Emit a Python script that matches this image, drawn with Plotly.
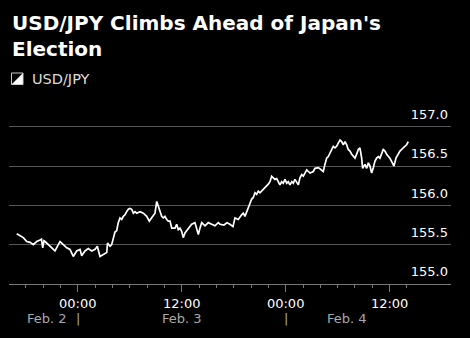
import plotly.graph_objects as go
import pandas as pd

# ---- data ----
hours_from_feb3 = [
    -7.04, -6.66, -6.28, -5.88, -5.50, -5.12, -4.73, -4.35, -4.18, -4.04, -3.89, -3.77,
    -3.39, -3.00, -2.62, -2.24, -2.04, -1.66, -1.27, -0.89, -0.51, -0.12, 0.27, 0.46,
    0.84, 1.22, 1.62, 2.00, 2.26, 2.57, 2.95, 3.35, 3.44, 3.73, 3.92, 4.11, 4.30, 4.50,
    4.68, 4.88, 5.08, 5.26, 5.46, 5.65, 5.84, 6.03, 6.23, 6.42, 6.61, 6.81, 7.19, 7.57,
    7.96, 8.26, 8.54, 8.72, 8.92, 9.12, 9.30, 9.50, 9.69, 9.88, 10.07, 10.27, 10.45, 10.65,
    10.85, 11.23, 11.42, 11.61, 11.80, 12.00, 12.18, 12.38, 12.76, 13.15, 13.53, 13.73,
    13.92, 14.11, 14.31, 14.69, 15.07, 15.46, 15.84, 16.22, 16.42, 16.88, 17.23, 17.57,
    17.92, 18.15, 18.53, 18.92, 19.11, 19.30, 19.50, 19.68, 19.88, 20.08, 20.26, 20.46,
    20.65, 20.84, 21.03, 21.41, 21.80, 21.99, 22.19, 22.38, 22.57, 22.76, 22.96, 23.15,
    23.34, 23.54, 23.72, 23.92, 24.12, 24.30, 24.50, 24.70, 24.88, 25.07, 25.27, 25.46,
    25.65, 25.85, 26.04, 26.23, 26.43, 26.62, 26.81, 27.19, 27.38, 27.77, 28.15, 28.34,
    28.53, 28.73, 28.92, 29.11, 29.31, 29.49, 29.69, 29.88, 30.07, 30.27, 30.46, 30.65,
    30.85, 31.04, 31.22, 31.42, 31.62, 31.80, 32.00, 32.19, 32.38, 32.57, 32.77, 32.88,
    33.15, 33.35, 33.54, 33.73, 33.92, 34.10, 34.30, 34.50, 34.69, 34.88, 35.07, 35.26,
    35.46, 35.65, 36.03, 36.23, 36.42, 36.50, 36.73, 37.00, 37.19, 37.57, 37.96, 38.15,
]
usdjpy = [
    155.64, 155.61, 155.59, 155.54, 155.53, 155.50, 155.54, 155.56, 155.57, 155.46, 155.55, 155.54,
    155.50, 155.46, 155.42, 155.50, 155.54, 155.50, 155.46, 155.44, 155.35, 155.42, 155.44, 155.36,
    155.42, 155.45, 155.42, 155.44, 155.48, 155.35, 155.38, 155.40, 155.52, 155.48, 155.50, 155.59,
    155.66, 155.68, 155.78, 155.84, 155.82, 155.86, 155.88, 155.92, 155.95, 155.96, 155.95, 155.90,
    155.92, 155.90, 155.92, 155.90, 155.86, 155.80, 155.84, 155.86, 155.90, 156.05, 155.99, 155.90,
    155.86, 155.84, 155.86, 155.82, 155.80, 155.80, 155.71, 155.71, 155.76, 155.69, 155.71, 155.67,
    155.59, 155.65, 155.71, 155.76, 155.78, 155.71, 155.63, 155.71, 155.78, 155.74, 155.78, 155.76,
    155.74, 155.78, 155.76, 155.75, 155.78, 155.76, 155.73, 155.84, 155.82, 155.88, 155.90, 155.86,
    155.92, 155.95, 156.03, 156.08, 156.10, 156.16, 156.14, 156.18, 156.16, 156.20, 156.24, 156.27,
    156.30, 156.37, 156.35, 156.33, 156.34, 156.30, 156.26, 156.30, 156.28, 156.33, 156.28, 156.30,
    156.26, 156.30, 156.28, 156.33, 156.30, 156.26, 156.35, 156.39, 156.37, 156.41, 156.45, 156.43,
    156.41, 156.43, 156.47, 156.48, 156.45, 156.43, 156.52, 156.60, 156.62, 156.67, 156.71, 156.75,
    156.73, 156.75, 156.79, 156.83, 156.81, 156.77, 156.81, 156.77, 156.71, 156.69, 156.65, 156.62,
    156.60, 156.65, 156.71, 156.73, 156.60, 156.47, 156.52, 156.47, 156.54, 156.50, 156.41, 156.47,
    156.56, 156.60, 156.62, 156.60, 156.67, 156.71, 156.69, 156.65, 156.60, 156.56, 156.52, 156.50,
    156.60, 156.65, 156.69, 156.73, 156.77, 156.81,
]
y_ticks = [155.0, 155.5, 156.0, 156.5, 157.0]
y_tick_labels = ["155.0", "155.5", "156.0", "156.5", "157.0"]
date_labels = ["Feb. 2", "Feb. 3", "Feb. 4"]
series_name = "USD/JPY"
title_text = "USD/JPY Climbs Ahead of Japan's<br>Election"

base = pd.Timestamp("2026-02-03 00:00")
times = [base + pd.Timedelta(hours=h) for h in hours_from_feb3]
x_start = base + pd.Timedelta(hours=-7.93)
x_end = base + pd.Timedelta(hours=43.08)

FONT = "DejaVu Sans"
GRID = "#555555"

fig = go.Figure()
fig.add_trace(go.Scatter(
    x=times, y=usdjpy, mode="lines",
    line=dict(color="#ffffff", width=1.7),
    hoverinfo="skip", showlegend=False,
))

fig.update_layout(
    width=470, height=338,
    paper_bgcolor="#000000", plot_bgcolor="#000000",
    margin=dict(l=9, r=19, t=107, b=54),
    showlegend=False,
    font=dict(family=FONT, color="#ffffff"),
)

fig.update_xaxes(
    type="date", range=[x_start, x_end],
    showgrid=False, zeroline=False,
    showline=True, linecolor="#777777", linewidth=1,
    ticks="outside", ticklen=7, tickwidth=1, tickcolor="#777777",
    tick0=base, dtick=12 * 3600 * 1000, tickformat="%H:%M",
    tickfont=dict(family=FONT, size=13, color="#ffffff"),
    minor=dict(ticks="outside", ticklen=3, tickcolor="#777777", dtick=2 * 3600 * 1000, showgrid=False),
)

fig.update_yaxes(
    range=[155, 157.25], side="right",
    tickvals=y_ticks, ticktext=y_tick_labels,
    ticklabelposition="inside top", ticklabelshift=-3,
    showgrid=True, gridcolor=GRID, gridwidth=1,
    zeroline=False, showline=False, ticks="",
    tickfont=dict(family=FONT, size=13, color="#ffffff"),
)

def px_x(p):
    return (p - 9) / 442

def px_y(p):
    return (284.5 - p) / 177

# title
fig.add_annotation(x=px_x(10), y=px_y(9.5), xref="paper", yref="paper", text=title_text,
                   showarrow=False, xanchor="left", yanchor="top", align="left",
                   font=dict(family="DejaVu Sans", size=20, color="#ffffff", weight="bold"))

# day labels centred on each day's data span, with separators at day boundaries
days = pd.Series(times).dt.normalize()
for lbl, day in zip(date_labels, sorted(days.unique())):
    in_day = [t for t in times if t.normalize() == day]
    lo, hi = min(in_day), max(in_day)
    if day != days.min():
        lo = day
        fig.add_annotation(x=day, y=-0.195, xref="x", yref="paper", text="|",
                           showarrow=False, font=dict(family=FONT, size=13, color="#aaaaaa"),
                           xanchor="center", yanchor="middle")
    if day != days.max():
        hi = day + pd.Timedelta(days=1)
    mid = lo + (hi - lo) / 2
    fig.add_annotation(x=mid, y=-0.195, xref="x", yref="paper", text=lbl,
                       showarrow=False, font=dict(family=FONT, size=13, color="#aaaaaa"),
                       xanchor="center", yanchor="middle")

# legend: split-square icon + label
x0, x1, y0, y1 = px_x(11.5), px_x(23), px_y(85), px_y(73.5)
fig.add_shape(type="path", xref="paper", yref="paper",
              path=f"M {x0},{y0} L {x1},{y1} L {x1},{y0} Z",
              fillcolor="#ffffff", line=dict(width=0))
fig.add_shape(type="rect", xref="paper", yref="paper", x0=x0, x1=x1, y0=y0, y1=y1,
              line=dict(color="#cccccc", width=1), fillcolor="rgba(0,0,0,0)")
fig.add_annotation(x=px_x(30), y=px_y(79.5), xref="paper", yref="paper", text=series_name,
                   showarrow=False, xanchor="left", yanchor="middle",
                   font=dict(family=FONT, size=14.5, color="#dddddd"))

fig.write_html("out.html")
